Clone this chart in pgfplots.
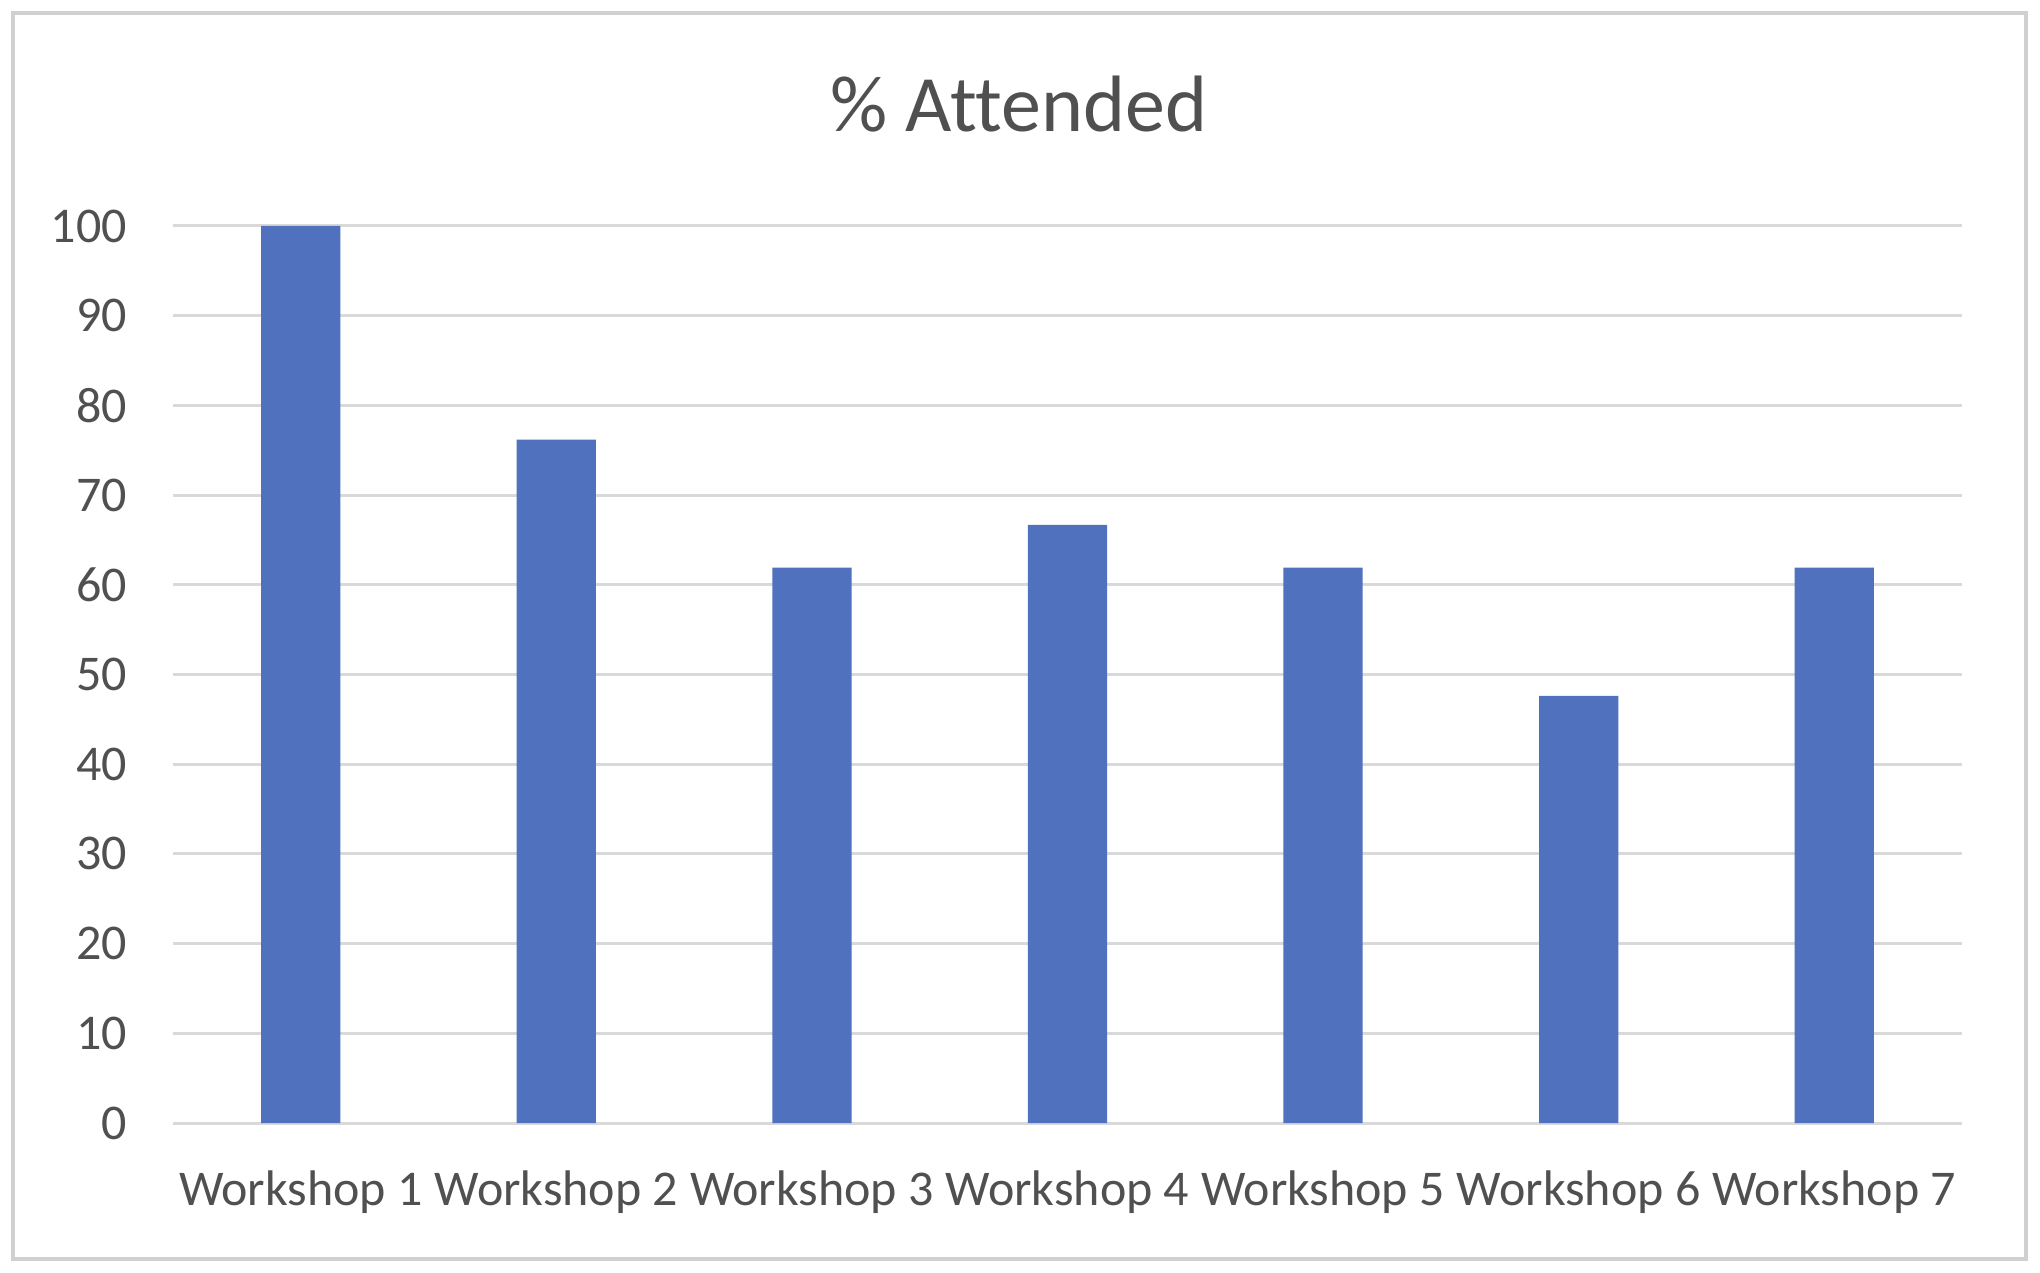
\documentclass[border=0pt]{standalone}
\usepackage{pgfplots}
\pgfplotsset{compat=1.18}
\usepackage{fontspec}
\setmainfont{Carlito}[Ligatures=NoCommon]
\definecolor{barblue}{RGB}{79,113,190}
\definecolor{txtgray}{RGB}{80,80,80}
\definecolor{gridgray}{RGB}{217,217,217}
\definecolor{bordergray}{RGB}{208,208,208}
\begin{document}
\begin{tikzpicture}
\fill[white] (-43.25pt,-37.25pt) rectangle (466.75pt,280.75pt);
\draw[bordergray, line width=1pt] (-40pt,-34pt) rectangle (463.25pt,277.5pt);
\begin{axis}[
  at={(0,0)}, anchor=south west,
  scale only axis,
  width=447.25pt, height=224.25pt,
  xmin=-0.5, xmax=6.5,
  ymin=0, ymax=100,
  ytick={0,10,...,100},
  xtick=data,
  xticklabels={Workshop 1,Workshop 2,Workshop 3,Workshop 4,Workshop 5,Workshop 6,Workshop 7},
  axis line style={draw=none},
  major tick length=0pt,
  ymajorgrids,
  grid style={gridgray, line width=0.75pt},
  tick label style={font=\fontsize{12.5}{14}\selectfont, text=txtgray},
  yticklabel style={xshift=-8pt},
  xticklabel style={yshift=-8.5pt},
  /pgf/number format/assume math mode=true,
  ybar, bar width=0.31,
  clip=false,
]
\addplot[fill=barblue, draw=none] coordinates {
  (0,100) (1,76.19) (2,61.90) (3,66.67) (4,61.90) (5,47.62) (6,61.90)
};
\end{axis}
\node[text=txtgray, font=\fontsize{20}{24}\selectfont] at (211.5pt,254.75pt) {\% Attended};
\end{tikzpicture}
\end{document}
